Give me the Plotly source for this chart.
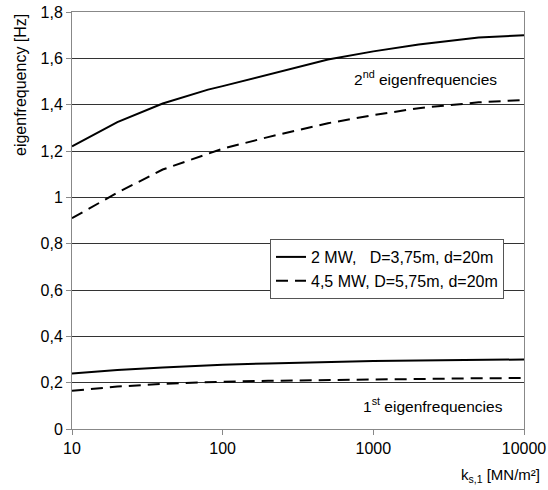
import plotly.graph_objects as go

ks = [10, 20, 40, 80, 100, 200, 500, 1000, 2000, 5000, 10000]
f2_2mw = [1.22, 1.325, 1.405, 1.465, 1.48, 1.53, 1.595, 1.63, 1.66, 1.69, 1.70]
f2_45mw = [0.91, 1.02, 1.12, 1.19, 1.21, 1.26, 1.32, 1.355, 1.385, 1.41, 1.42]
f1_2mw = [0.24, 0.255, 0.265, 0.275, 0.277, 0.283, 0.29, 0.293, 0.296, 0.299, 0.30]
f1_45mw = [0.165, 0.183, 0.195, 0.202, 0.204, 0.208, 0.212, 0.215, 0.217, 0.219, 0.22]

name_2mw = "2 MW,   D=3,75m, d=20m"
name_45mw = "4,5 MW, D=5,75m, d=20m"

FONT = "Liberation Sans, Arial, sans-serif"
dash = "12px,7px"

fig = go.Figure()
fig.add_trace(go.Scatter(x=ks, y=f2_2mw, mode="lines", name=name_2mw,
                         line=dict(color="black", width=2), legendgroup="a"))
fig.add_trace(go.Scatter(x=ks, y=f2_45mw, mode="lines", name=name_45mw,
                         line=dict(color="black", width=2, dash=dash), legendgroup="b"))
fig.add_trace(go.Scatter(x=ks, y=f1_2mw, mode="lines", showlegend=False,
                         line=dict(color="black", width=2), legendgroup="a"))
fig.add_trace(go.Scatter(x=ks, y=f1_45mw, mode="lines", showlegend=False,
                         line=dict(color="black", width=2, dash=dash), legendgroup="b"))

fig.update_layout(
    width=548, height=490,
    margin=dict(l=72, r=24, t=12, b=61, autoexpand=False),
    paper_bgcolor="white", plot_bgcolor="white",
    separators=",.",
    font=dict(family=FONT, size=15, color="black"),
    showlegend=True,
    legend=dict(x=(270 - 72) / 452, y=(429 - 239) / 417, xanchor="left", yanchor="top",
                bgcolor="white", bordercolor="#555", borderwidth=1,
                font=dict(size=16, family=FONT), tracegroupgap=0,
                itemwidth=30),
    xaxis=dict(type="log", range=[1, 4], tickvals=[10, 100, 1000, 10000],
               ticktext=["10", "100", "1000", "10000"], automargin=False,
               showgrid=False, showline=True, linecolor="#888", linewidth=1,
               mirror=True, ticks="outside", ticklen=5, tickcolor="#888",
               tickfont=dict(size=16), zeroline=False),
    yaxis=dict(range=[0, 1.8], dtick=0.2, tick0=0, automargin=False,
               showgrid=True, gridcolor="#333", gridwidth=1,
               showline=True, linecolor="#888", linewidth=1, mirror=True,
               ticks="outside", ticklen=5, tickcolor="#888",
               tickfont=dict(size=16), zeroline=False),
    annotations=[
        dict(text="eigenfrequency [Hz]", xref="paper", yref="paper",
             x=-0.115, y=1.0, xanchor="center", yanchor="top", textangle=-90,
             showarrow=False, font=dict(size=16)),
        dict(text="k<sub>s,1</sub> [MN/m²]", xref="paper", yref="paper",
             x=1.04, y=-0.085, xanchor="right", yanchor="top",
             showarrow=False, font=dict(size=15)),
        dict(text="2<sup>nd</sup> eigenfrequencies", xref="paper", yref="paper",
             x=(425 - 72) / 452, y=(429 - 78) / 417, xanchor="center", yanchor="middle",
             showarrow=False, font=dict(size=15.5)),
        dict(text="1<sup>st</sup> eigenfrequencies", xref="paper", yref="paper",
             x=(433 - 72) / 452, y=(429 - 405) / 417, xanchor="center", yanchor="middle",
             showarrow=False, font=dict(size=15.5)),
    ],
)

fig.write_html("out.html", config={"displayModeBar": False},
               post_script="document.body.style.margin='0';document.body.style.overflow='hidden';")
